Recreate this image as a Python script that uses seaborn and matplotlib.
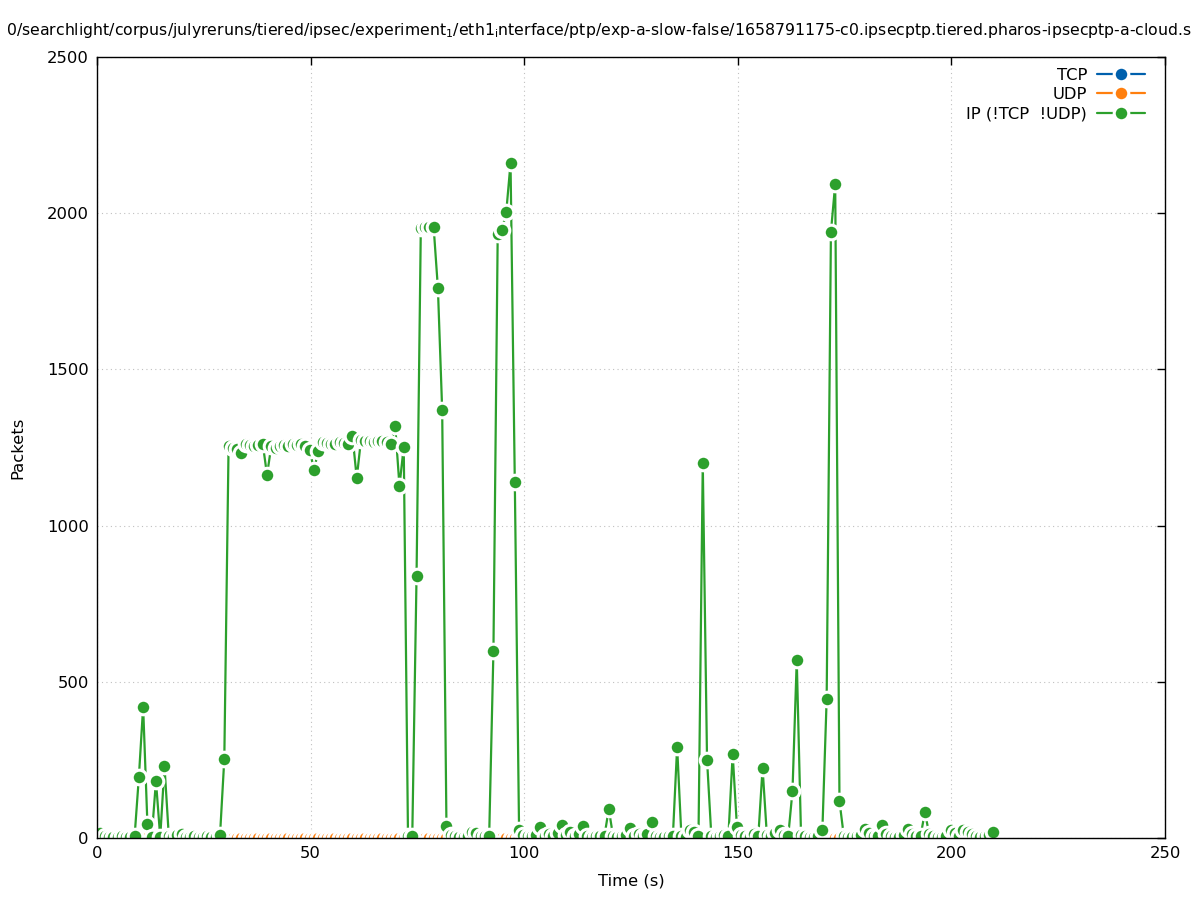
import numpy as np
import pandas as pd
import matplotlib
matplotlib.use("Agg")
import matplotlib.pyplot as plt
import seaborn as sns

# ---- data ----
series_names = ["TCP", "UDP", "IP (!TCP  !UDP)"]
series_colors = ["#0060ad", "#ff7f0e", "#2ca02c"]

seconds = list(range(210))
time_offset = 0.8

ip_packets = [
    15, 5, 3, 4, 2, 6, 4, 3, 5, 195,
    420, 45, 2, 182, 3, 230, 8, 4, 10, 12,
    3, 2, 6, 4, 2, 5, 4, 3, 10, 253,
    1255, 1250, 1245, 1232, 1262, 1258, 1255, 1258, 1262, 1162,
    1255, 1250, 1255, 1258, 1255, 1260, 1258, 1262, 1255, 1242,
    1178, 1240, 1268, 1265, 1262, 1260, 1268, 1265, 1262, 1288,
    1152, 1275, 1270, 1272, 1268, 1270, 1272, 1268, 1262, 1320,
    1127, 1252, 5, 6, 839, 1953, 1955, 1955, 1956, 1760,
    1370, 38, 10, 6, 4, 3, 8, 18, 15, 6,
    6, 6, 600, 1935, 1946, 2004, 2160, 1140, 25, 10,
    6, 6, 10, 35, 8, 12, 6, 15, 42, 10,
    18, 8, 12, 38, 6, 4, 6, 8, 8, 93,
    6, 4, 8, 10, 32, 6, 12, 8, 12, 52,
    6, 4, 3, 8, 5, 292, 5, 4, 25, 20,
    6, 1200, 250, 8, 4, 6, 10, 6, 269, 35,
    10, 6, 4, 12, 6, 224, 10, 6, 15, 25,
    10, 6, 150, 570, 10, 6, 4, 3, 8, 26,
    445, 1940, 2093, 118, 8, 4, 3, 6, 10, 29,
    15, 6, 8, 42, 12, 6, 4, 3, 10, 29,
    12, 6, 8, 83, 12, 6, 4, 3, 8, 26,
    15, 6, 26, 20, 12, 8, 4, 6, 10, 19,
]
tcp_packets = [0] * len(seconds)
udp_packets = [0] * len(seconds)

x_ticks = [0, 50, 100, 150, 200, 250]
y_ticks = [0, 500, 1000, 1500, 2000, 2500]

title_text = ("0/searchlight/corpus/julyreruns/tiered/ipsec/experiment$_1$/eth1$_\\mathregular{i}$nterface"
              "/ptp/exp-a-slow-false/1658791175-c0.ipsecptp.tiered.pharos-ipsecptp-a-cloud.s")

# ---- build table ----
times = [s + time_offset for s in seconds]
frames = []
for name, vals in zip(series_names, [tcp_packets, udp_packets, ip_packets]):
    frames.append(pd.DataFrame({"time": times, "packets": vals, "series": name}))
df = pd.concat(frames, ignore_index=True)

sns.set_style("white")
plt.rcParams["font.family"] = ["DejaVu Sans"]
plt.rcParams["mathtext.fontset"] = "dejavusans"
plt.rcParams["text.color"] = "black"
plt.rcParams["axes.labelcolor"] = "black"

FS = 11.8

fig = plt.figure(figsize=(11.97, 9.0), dpi=100)
ax = fig.add_axes([97 / 1197, 1 - 838 / 900, (1165 - 97) / 1197, (838 - 57) / 900])

sns.lineplot(data=df, x="time", y="packets", hue="series", hue_order=series_names,
             palette=series_colors, marker="o", markersize=10.5,
             markeredgecolor="white", markeredgewidth=2.2, linewidth=1.6,
             sort=True, estimator=None, ax=ax, legend=True)

ax.set_xlim(0, 250)
ax.set_ylim(0, 2500)
ax.set_xticks(x_ticks)
ax.set_yticks(y_ticks)
ax.tick_params(direction="in", length=6, width=1, top=True, right=True,
               labelsize=FS, colors="black", pad=6)
for sp in ax.spines.values():
    sp.set_color("black")
    sp.set_linewidth(1.0)
ax.grid(True, color="#c0c0c0", linestyle=(0, (1, 3)), linewidth=0.8)
ax.set_axisbelow(True)

ax.set_xlabel("Time (s)", fontsize=FS, labelpad=9, color="black")
ax.set_ylabel("Packets", fontsize=FS, labelpad=15, color="black")

handles, labels = ax.get_legend_handles_labels()
if ax.get_legend() is not None:
    ax.get_legend().remove()
for h in handles:
    h.set_markeredgecolor("white")
    h.set_markeredgewidth(2.2)
    h.set_markersize(10.5)
leg = ax.legend(handles, labels, loc="upper right", frameon=False,
                markerfirst=False, fontsize=FS, handlelength=2.95,
                labelspacing=0.27, handletextpad=0.6,
                bbox_to_anchor=(0.9906, 0.999), borderaxespad=0.2)
for t in leg.get_texts():
    t.set_color("black")

fig.text(0.5, 1 - 30 / 900, title_text, ha="center", va="center",
         fontsize=11.3, color="black")

fig.savefig("out.png", dpi=100)
